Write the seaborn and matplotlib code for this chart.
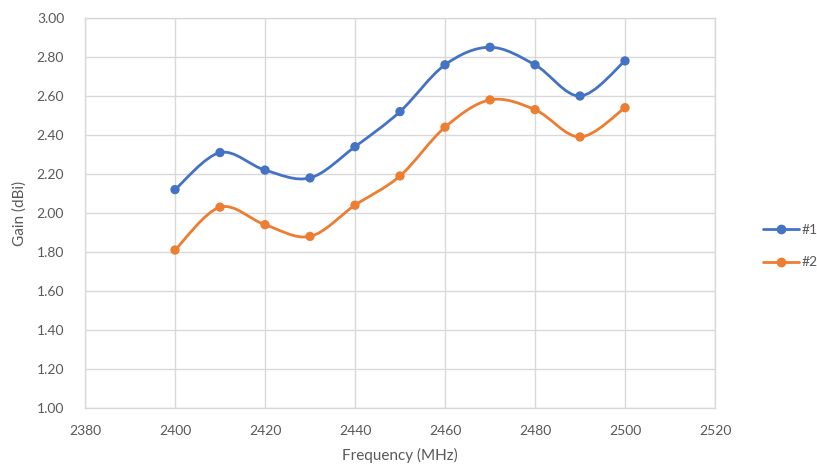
import numpy as np
import pandas as pd
import matplotlib.pyplot as plt
import seaborn as sns
from matplotlib.path import Path
from matplotlib.patches import PathPatch
from matplotlib.lines import Line2D

# values
freq = [2400, 2410, 2420, 2430, 2440, 2450, 2460, 2470, 2480, 2490, 2500]
gain_1 = [2.12, 2.31, 2.22, 2.18, 2.34, 2.52, 2.76, 2.85, 2.76, 2.60, 2.78]
gain_2 = [1.81, 2.03, 1.94, 1.88, 2.04, 2.19, 2.44, 2.58, 2.53, 2.39, 2.54]
series_names = ["#1", "#2"]
colors = ["#4472C4", "#ED7D31"]

df = pd.DataFrame({"freq": freq * 2,
                   "gain": gain_1 + gain_2,
                   "series": [series_names[0]] * len(freq) + [series_names[1]] * len(freq)})

sns.set_theme(style="whitegrid")
plt.rcParams['font.family'] = ['Lato', 'DejaVu Sans']
text_col = "#595959"
grid_col = "#d9d9d9"


def smooth_path(x, y):
    # Excel-style smoothed line: cubic Bezier segments through the points
    pts = np.column_stack([x, y]).astype(float)
    verts = [pts[0]]
    codes = [Path.MOVETO]
    n = len(pts)
    for i in range(n - 1):
        p0 = pts[i - 1] if i > 0 else pts[i]
        p1 = pts[i]
        p2 = pts[i + 1]
        p3 = pts[i + 2] if i + 2 < n else pts[i + 1]
        c1 = p1 + (p2 - p0) / 6.0
        c2 = p2 - (p3 - p1) / 6.0
        verts += [c1, c2, p2]
        codes += [Path.CURVE4] * 3
    return Path(verts, codes)


fig = plt.figure(figsize=(8.17, 4.68), dpi=100)
ax = fig.add_axes([85 / 817, 60 / 468, 630 / 817, 390 / 468])

for name, col in zip(series_names, colors):
    sub = df[df["series"] == name]
    ax.add_patch(PathPatch(smooth_path(sub["freq"], sub["gain"]), facecolor="none",
                           edgecolor=col, lw=2, zorder=3))

sns.scatterplot(data=df, x="freq", y="gain", hue="series", palette=colors,
                s=45, edgecolor="none", legend=False, zorder=4, ax=ax)

ax.set_xlim(2380, 2520)
ax.set_ylim(1.0, 3.0)
ax.set_xticks(np.arange(2380, 2521, 20))
ax.set_yticks(np.arange(1.0, 3.01, 0.2))
ax.set_yticklabels([f"{v:.2f}" for v in np.arange(1.0, 3.01, 0.2)])
ax.grid(True, color=grid_col, lw=1)
for s in ax.spines.values():
    s.set_color(grid_col)
    s.set_linewidth(1)
ax.tick_params(colors=text_col, labelsize=10, length=0)
ax.tick_params(axis="x", pad=12)
ax.tick_params(axis="y", pad=15)
ax.set_xlabel("Frequency (MHz)", color=text_col, fontsize=11, labelpad=8)
ax.set_ylabel("Gain (dBi)", color=text_col, fontsize=11, labelpad=7)

handles = [Line2D([], [], color=c, lw=2, marker="o", markersize=6) for c in colors]
fig.legend(handles, series_names, loc="center left", bbox_to_anchor=(757 / 817, 222 / 468),
           frameon=False, fontsize=10, labelcolor=text_col, handlelength=2.6,
           handletextpad=0.2, labelspacing=1.5, borderaxespad=0)

fig.savefig("out.png", dpi=100)
